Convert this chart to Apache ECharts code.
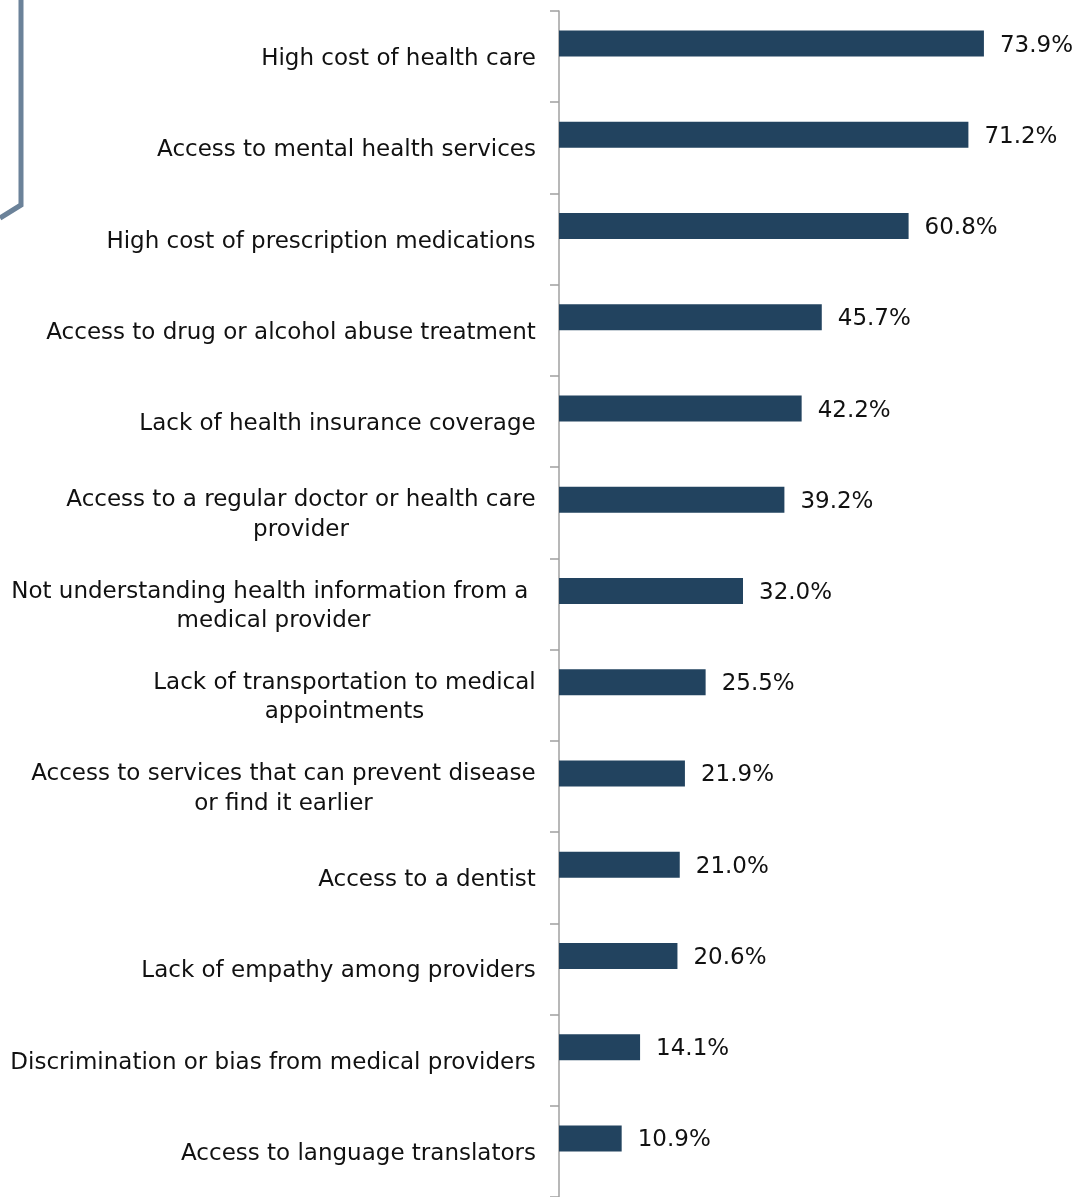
<!DOCTYPE html>
<html>
<head>
<meta charset="utf-8">
<script src="https://cdn.jsdelivr.net/npm/echarts@6/dist/echarts.min.js"></script>
<style>
  html, body { margin: 0; padding: 0; background: #fff; }
  #chart { width: 1087px; height: 1197px; }
</style>
</head>
<body>
<div id="chart"></div>
<script>
// categories, top to bottom
const categories = [
  'High cost of health care',
  'Access to mental health services',
  'High cost of prescription medications',
  'Access to drug or alcohol abuse treatment',
  'Lack of health insurance coverage',
  'Access to a regular doctor or health care\nprovider',
  'Not understanding health information from a \nmedical provider',
  'Lack of transportation to medical\nappointments',
  'Access to services that can prevent disease\nor find it earlier',
  'Access to a dentist',
  'Lack of empathy among providers',
  'Discrimination or bias from medical providers',
  'Access to language translators'
];
const percentages = [73.9, 71.2, 60.8, 45.7, 42.2, 39.2, 32.0, 25.5, 21.9, 21.0, 20.6, 14.1, 10.9];
const emptySeries = categories.map(() => null);

const FONT = '"DejaVu Sans"';
const FONT_SIZE = 23;

// measure each label's widest line so the lines can be centred inside a right-aligned block
const ctx = document.createElement('canvas').getContext('2d');
ctx.font = FONT_SIZE + 'px ' + FONT;
const rich = {};
categories.forEach((c, i) => {
  const w = Math.max(...c.split('\n').map(l => ctx.measureText(l).width));
  rich['r' + i] = {
    width: Math.ceil(w), align: 'center',
    fontFamily: FONT, fontSize: FONT_SIZE, lineHeight: 29.5, color: '#111'
  };
});

const chart = echarts.init(document.getElementById('chart'));

const option = {
  animation: false,
  graphic: [{
    type: 'polyline',
    shape: { points: [[21, 0], [21, 205], [0, 218]] },
    style: { stroke: '#6b8299', lineWidth: 5, fill: null }
  }],
  grid: { left: 559, top: 11, width: 460, height: 1188 },
  xAxis: {
    type: 'value', min: 0, max: 80, show: false
  },
  yAxis: {
    type: 'category',
    inverse: true,
    data: categories,
    axisLine: { lineStyle: { color: '#a0a0a0', width: 1.5 } },
    axisTick: { show: true, length: 9, lineStyle: { color: '#a0a0a0', width: 1.5 } },
    axisLabel: {
      margin: 23,
      align: 'right',
      padding: [5, 0, 0, 0],
      formatter: (v, i) => v.split('\n').map(l => '{r' + i + '|' + l + '}').join('\n'),
      rich: rich
    }
  },
  series: [
    {
      type: 'bar',
      data: percentages,
      barWidth: 26,
      barGap: '0%',
      itemStyle: { color: '#22435f' },
      label: {
        show: true,
        position: 'right',
        distance: 16,
        offset: [0, 2],
        formatter: p => p.value.toFixed(1) + '%',
        fontFamily: FONT,
        fontSize: FONT_SIZE,
        color: '#111'
      }
    },
    {
      type: 'bar',
      data: emptySeries,
      barWidth: 26
    }
  ]
};
chart.setOption(option);
</script>
</body>
</html>
